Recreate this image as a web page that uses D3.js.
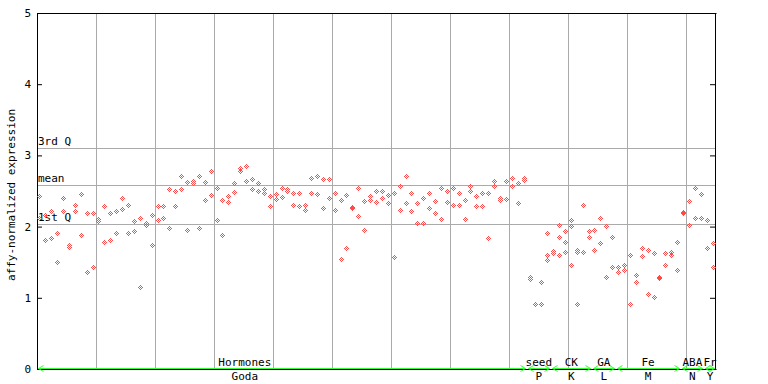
<!DOCTYPE html>
<html><head><meta charset="utf-8">
<script src="https://cdn.jsdelivr.net/npm/d3@7"></script>
<style>
body{margin:0;background:#fff}
svg{display:block}
text{font-family:"DejaVu Sans Mono",monospace;font-size:11px;fill:#000}
</style>
</head><body>
<svg id="c" width="768" height="384"></svg>
<script>
// replicate values per sample position (115 positions)
const rep1 = [2.42,2.16,2.21,1.91,2.40,1.74,2.29,2.45,2.18,2.18,
2.10,2.28,2.18,2.21,2.39,2.30,2.07,2.11,2.05,2.16,
2.28,2.28,2.52,2.49,2.71,2.62,2.63,2.71,2.62,2.77,
2.54,2.37,2.42,2.61,2.81,2.84,2.66,2.60,2.52,2.42,
2.45,2.54,2.52,2.47,2.46,2.29,2.67,2.71,2.66,2.66,
2.47,2.37,2.43,2.27,2.53,2.35,2.42,2.50,2.49,2.43,
2.46,2.56,2.70,2.46,2.33,2.40,2.47,2.35,2.54,2.49,
2.53,2.46,2.36,2.57,2.42,2.46,2.47,2.63,2.40,2.63,
2.67,2.60,2.67,1.29,0.90,0.91,1.90,1.65,2.02,1.93,
2.08,1.67,2.30,1.93,1.95,2.12,2.00,1.84,1.42,1.45,
1.60,1.32,1.69,1.67,1.62,1.29,1.62,1.63,1.77,2.20,
2.35,2.54,2.45,2.09,1.76];
const rep2 = [2.12,1.81,1.83,1.50,2.21,1.71,2.21,1.88,1.36,1.43,
2.07,1.77,1.81,1.90,2.24,1.90,1.93,1.14,2.01,1.74,
2.09,2.11,1.97,2.28,2.52,1.94,2.60,1.98,2.36,2.43,
2.08,1.87,2.34,2.48,2.78,2.63,2.52,2.50,2.46,2.28,
2.38,2.41,2.49,2.30,2.28,2.22,2.46,2.45,2.26,2.39,
2.22,1.54,1.69,2.25,2.14,1.94,2.37,2.34,2.39,2.32,
1.57,2.22,2.32,2.21,2.04,2.04,2.26,2.19,2.10,2.34,
2.30,2.30,2.10,2.50,2.28,2.28,1.83,2.57,2.37,2.38,
2.56,2.32,2.65,1.26,null,1.22,1.60,1.62,1.84,1.77,
2.00,1.63,1.63,1.85,1.67,1.76,1.28,1.42,1.35,1.39,
0.90,1.22,1.58,1.04,1.00,1.27,1.46,1.60,1.39,2.18,
2.02,2.12,2.11,1.69,1.43];
// third replicate where present
const rep3Index = [86, 88, 89, 90, 91];
const rep3Values = [1.53, 1.59, 1.63, 1.46, 0.90];

const yTicks = [0, 1, 2, 3, 4, 5];
const refNames = ["3rd Q", "mean", "1st Q"];
const refValues = [3.10, 2.58, 2.04];

const groupNames = ["Hormones", "seed", "CK", "GA", "Fe", "ABA", "Fr"];
const groupCodes = ["Goda", "P", "K", "L", "M", "N", "Y"];
const groupStart = [0, 83, 87, 94, 98, 109, 113];
const groupEnd   = [82, 86, 93, 97, 108, 112, 114];
const groupLabelAt = [35.2, 85, 90.5, 96, 103.5, 111, 114];

const yTitle = "affy-normalized expression";
const nPos = rep1.length;

const svg = d3.select("#c");
const x = d3.scaleLinear().domain([0, nPos]).range([37, 716]);
const y = d3.scaleLinear().domain([0, 5]).range([369, 13]);
const X0 = x(0), X1 = x(nPos), Y0 = y(0), Y1 = y(5);
const cr = v => Math.round(v) + 0.5;

// vertical grid lines
svg.append("g").selectAll("line").data(d3.range(10, nPos, 10)).join("line")
  .attr("x1", d => cr(x(d))).attr("x2", d => cr(x(d)))
  .attr("y1", Y1).attr("y2", Y0)
  .attr("stroke", "#aaa").attr("stroke-width", 1);

// reference lines
svg.append("g").selectAll("line").data(refValues).join("line")
  .attr("x1", X0).attr("x2", X1)
  .attr("y1", d => cr(y(d))).attr("y2", d => cr(y(d)))
  .attr("stroke", "#aaa").attr("stroke-width", 1);
svg.append("g").selectAll("text").data(refNames).join("text")
  .attr("x", X0 + 1).attr("y", (d, i) => Math.round(y(refValues[i])) - 3)
  .text(d => d);

// frame
svg.append("line").attr("x1", X0).attr("x2", cr(X1)).attr("y1", cr(Y1)).attr("y2", cr(Y1)).attr("stroke", "#000");
svg.append("line").attr("x1", X0).attr("x2", cr(X1)).attr("y1", cr(Y0)).attr("y2", cr(Y0)).attr("stroke", "#000");

const yl = svg.append("g").attr("transform", `translate(${Math.round(X0)},0)`)
  .call(d3.axisLeft(y).tickValues(yTicks).tickFormat(d3.format("d")).tickSizeInner(-5).tickSizeOuter(0).tickPadding(6));
yl.selectAll("text").style("font-size", "11px");
const yr = svg.append("g").attr("transform", `translate(${Math.round(X1) - 1},0)`)
  .call(d3.axisRight(y).tickValues(yTicks).tickFormat("").tickSizeInner(-5).tickSizeOuter(0));
svg.selectAll(".domain").attr("stroke", "#000");

// y title
svg.append("text").attr("transform", `translate(15,${(Y0 + Y1) / 2 + 4}) rotate(-90)`)
  .attr("text-anchor", "middle").text(yTitle);

// points
const pts = [];
for (let k = 0; k < nPos; k++) {
  if (rep1[k] != null) pts.push({k, v: rep1[k]});
  if (rep2[k] != null) pts.push({k, v: rep2[k]});
}
rep3Index.forEach((k, i) => pts.push({k, v: rep3Values[i]}));
const offs = [];
for (let dx = -2; dx <= 2; dx++) for (let dy = -2; dy <= 2; dy++)
  if (Math.abs(dx) + Math.abs(dy) <= 2 && (dx + dy) % 2 === 0) offs.push([dx, dy]);
svg.append("g").selectAll("path").data(pts).join("path")
  .attr("d", d => {
    const px = Math.floor(x(d.k + 0.5)), py = Math.floor(y(d.v));
    return offs.map(([dx, dy]) => `M${px + dx},${py + dy}h1v1h-1z`).join("");
  })
  .attr("fill", "#ff4a4a").attr("shape-rendering", "crispEdges");

// group arrows
const green = "#33ff33";
const ga = svg.append("g").attr("stroke", green).attr("fill", "none").attr("stroke-width", 1);
const ay = 368.5;
groupNames.forEach((g, i) => {
  const a = Math.round(x(groupStart[i] + 0.5)) - 1.5, b = Math.round(x(groupEnd[i] + 0.5)) + 1.5;
  ga.append("path").attr("d", `M${a},${ay}H${b}M${a + 5},${ay - 3}L${a},${ay}L${a + 5},${ay + 3}M${b - 5},${ay - 3}L${b},${ay}L${b - 5},${ay + 3}`);
});
svg.append("g").selectAll("text").data(groupNames).join("text")
  .attr("x", (d, i) => x(groupLabelAt[i])).attr("y", 366)
  .attr("text-anchor", "middle").text(d => d);
svg.append("g").selectAll("text").data(groupCodes).join("text")
  .attr("x", (d, i) => x(groupLabelAt[i])).attr("y", 380)
  .attr("text-anchor", "middle").text(d => d);
</script>
</body></html>
